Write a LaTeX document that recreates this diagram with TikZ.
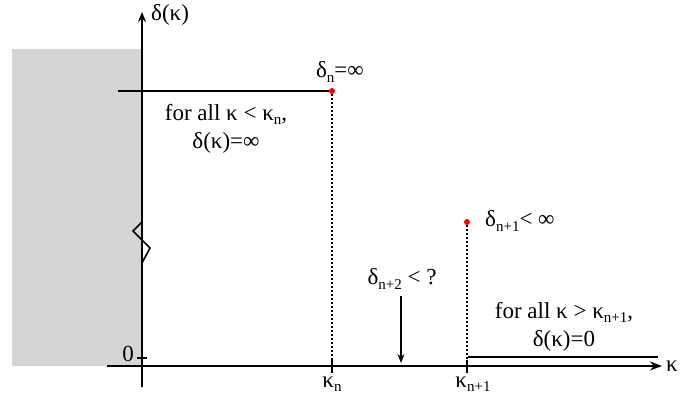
\documentclass[tikz,border=0pt]{standalone}
\usepackage{fontspec}
\setmainfont{Liberation Serif}
\usetikzlibrary{arrows.meta}
\newcommand{\lsub}[1]{\raisebox{-0.4ex}{\fontsize{15}{15}\selectfont #1}}
\begin{document}
\begin{tikzpicture}[x=1pt,y=-1pt,
  lbl/.style={inner sep=0pt,font=\fontsize{23}{28}\selectfont,align=center},
  axis/.style={line width=1.6pt},
  thin/.style={line width=1.2pt},
  dotline/.style={line width=1.1pt,dash pattern=on 2pt off 2pt},
  reddot/.style={circle,fill=red,inner sep=0pt,minimum size=6pt}]
\useasboundingbox (0,0) rectangle (680,395);
\fill[gray!33] (12,49) rectangle (142,366);
% coordinates
\coordinate (ybot) at (142,387);
\coordinate (ytop) at (142,12);
\coordinate (xleft) at (107,366);
\coordinate (xright) at (662,366);
% y axis with zigzag
\draw[axis,line join=miter] (ybot) -- (142,222) -- (133,231) -- (150,248) -- (142,263) -- (142,20);
\draw[axis,-{Stealth[length=10pt,width=8pt]}] (142,30) -- (ytop);
\draw[axis,-{Stealth[length=12pt,width=9pt]}] (xleft) -- (xright);
% labels of axes
\node[lbl,anchor=west] (ylab) at (151,15) {δ(κ)};
\node[lbl,anchor=west] (xlab) at (666,366) {κ};
% zero tick
\node[lbl,anchor=east] (zero) at (134,354) {0};
\coordinate (z1) at (137,358);
\coordinate (z2) at (147,358);
\draw[thin] (z1) -- (z2);
% top line
\node[reddot] (d1) at (332,91) {};
\coordinate (tl) at (118,91);
\draw[thin] (tl) -- (d1);
\node[lbl] (d1lab) at (340,72) {δ\lsub{n}=∞};
\coordinate (k1) at (332,366);
\draw[dotline] (d1) -- (k1);
\draw[thin] (332,360) -- (332,373);
\node[lbl] (k1lab) at (332,384) {κ\lsub{n}};
\node[lbl] (left) at (226,129) {for all κ < κ\lsub{n},\\ δ(κ)=∞};
% second point
\node[reddot] (d2) at (467,222) {};
\node[lbl,anchor=west] (d2lab) at (485,221) {δ\lsub{n+1}< ∞};
\coordinate (k2) at (467,366);
\draw[dotline] (d2) -- (k2);
\draw[thin] (467,360) -- (467,373);
\node[lbl] (k2lab) at (473,384) {κ\lsub{n+1}};
% question
\node[lbl] (q) at (402,279) {δ\lsub{n+2} < ?};
\coordinate (qa) at (401,296);
\coordinate (qb) at (401,363);
\draw[thin,-{Stealth[length=9pt,width=7pt]}] (qa) -- (qb);
% right
\coordinate (r1) at (468,357);
\coordinate (r2) at (658,357);
\draw[thin] (r1) -- (r2);
\node[lbl] (right) at (564,327) {for all κ > κ\lsub{n+1},\\ δ(κ)=0};
\end{tikzpicture}
\end{document}
